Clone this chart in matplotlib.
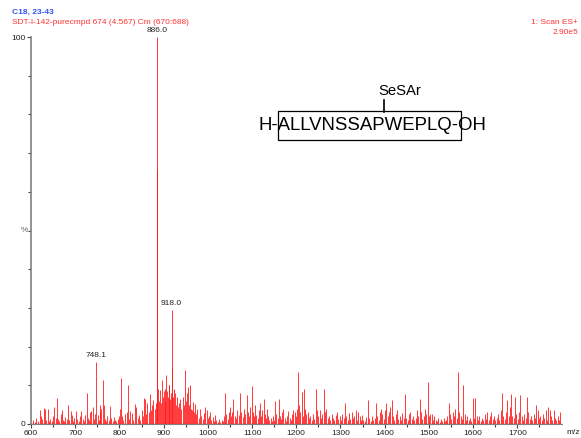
import matplotlib
matplotlib.use("Agg")
import matplotlib.pyplot as plt
from matplotlib.patches import Rectangle
from matplotlib.lines import Line2D

plt.rcParams['font.family'] = ['Liberation Sans', 'DejaVu Sans']

# peak list (m/z, relative intensity %)
mz = [
    604, 608, 612, 616, 620, 623, 626, 629, 632, 635, 638, 641, 644, 647, 650, 653, 656, 658, 661, 664,
    667, 669, 672, 675, 678, 681, 684, 687, 690, 692, 695, 698,
    702, 705, 708, 711, 714, 717, 720, 723, 726, 729, 731, 733, 736, 740, 743, 745, 748.1, 751,
    753, 755, 757, 759, 762, 764, 767, 770, 773, 776, 779, 782, 785, 788, 790, 793, 796, 799,
    801, 803, 806, 809, 812, 816, 819, 822, 825, 828, 831, 835, 838, 841, 844, 847, 850, 853,
    855, 858, 861, 863, 866, 869, 872, 874, 877, 880, 882, 884, 885.3, 886.0, 888, 890, 892, 894,
    896, 898, 900,
    902, 904, 905, 907, 909, 911, 913, 915, 916.5, 918.0, 920, 922, 924, 926, 928, 930, 932, 934,
    937, 940, 943, 945, 948, 950, 952, 954, 957, 960, 962, 965, 967, 969, 971, 974, 976, 979, 982,
    985, 988, 991, 994, 997, 1000,
    1003, 1005, 1008, 1011, 1014, 1016, 1019, 1022, 1025, 1028, 1031, 1034, 1037, 1039, 1042, 1045,
    1047, 1050, 1053, 1055, 1058, 1061, 1064, 1067, 1070, 1073, 1076, 1079, 1082, 1085, 1088, 1091,
    1094, 1096, 1099,
    1102, 1105, 1107, 1110, 1113, 1115, 1118, 1121, 1123, 1126, 1129, 1131, 1133, 1136, 1139, 1142,
    1145, 1148, 1150, 1152, 1155, 1158, 1160, 1163, 1166, 1168, 1171, 1174, 1177, 1179, 1182, 1185,
    1188, 1190, 1193, 1196, 1199,
    1202, 1204, 1207, 1209, 1212, 1215, 1217, 1220, 1223, 1226, 1229, 1232, 1235, 1238, 1241, 1244,
    1247, 1250, 1253, 1256, 1259, 1262, 1265, 1268, 1271, 1274, 1277, 1280, 1283, 1286, 1289, 1292,
    1295, 1298,
    1301, 1304, 1307, 1310, 1313, 1316, 1319, 1322, 1325, 1328, 1331, 1334, 1337, 1340, 1343, 1346,
    1349, 1352, 1355, 1358, 1362, 1365, 1368, 1371, 1374, 1377, 1380, 1383, 1386, 1389, 1392, 1395,
    1398,
    1401, 1404, 1407, 1410, 1413, 1416, 1419, 1422, 1425, 1428, 1431, 1434, 1437, 1440, 1443, 1446,
    1449, 1452, 1455, 1458, 1461, 1464, 1467, 1470, 1473, 1476, 1479, 1482, 1485, 1488, 1491, 1494,
    1497,
    1500, 1503, 1506, 1509, 1512, 1515, 1518, 1521, 1524, 1527, 1530, 1533, 1536, 1539, 1542, 1545,
    1548, 1551, 1554, 1557, 1560, 1563, 1566, 1569, 1572, 1575, 1578, 1581, 1584, 1587, 1590, 1593,
    1596, 1599,
    1602, 1605, 1608, 1611, 1614, 1617, 1620, 1623, 1626, 1629, 1632, 1635, 1638, 1641, 1644, 1647,
    1650, 1653, 1656, 1659, 1662, 1665, 1668, 1671, 1674, 1677, 1680, 1683, 1686, 1689, 1692, 1695,
    1698,
    1701, 1704, 1707, 1710, 1713, 1716, 1719, 1722, 1725, 1728, 1731, 1734, 1737, 1740, 1743, 1746,
    1749, 1752, 1755, 1758, 1761, 1764, 1767, 1770, 1773, 1776, 1779, 1782, 1785, 1788, 1791, 1794,
    1797,
]
intensity = [
    1.0, 0.6, 1.5, 0.8, 3.6, 2.0, 1.2, 4.2, 4.0, 1.0, 3.8, 0.9, 1.4, 0.7, 2.0, 4.3, 1.5, 6.7, 1.2, 0.8,
    2.5, 3.6, 1.1, 0.7, 1.8, 1.3, 4.8, 1.0, 3.4, 2.2, 0.9, 1.6,
    3.4, 1.2, 0.8, 2.0, 3.4, 1.4, 0.9, 2.3, 7.9, 1.5, 1.0, 3.0, 3.4, 4.5, 1.2, 2.6, 16.0, 2.4,
    1.1, 4.9, 3.0, 4.0, 11.4, 5.0, 1.3, 0.8, 2.0, 1.0, 4.6, 1.5, 0.9, 1.8, 1.0, 0.7, 1.4, 2.0,
    4.0, 11.8, 2.0, 1.0, 2.5, 3.0, 10.0, 1.2, 3.4, 2.8, 1.0, 5.2, 4.5, 1.5, 2.2, 1.0, 3.6, 2.0,
    6.7, 6.5, 2.5, 5.5, 3.0, 7.7, 3.5, 5.0, 6.3, 4.0, 5.5, 7.5, 66.0, 100.0, 9.0, 6.0, 8.8, 5.5,
    11.4, 7.0, 8.5,
    6.0, 9.0, 12.7, 8.5, 7.0, 10.0, 10.0, 6.5, 8.0, 29.5, 14.8, 7.0, 9.0, 8.0, 5.0, 7.0, 4.5, 5.5,
    6.5, 4.0, 7.0, 5.0, 14.0, 6.0, 8.0, 9.6, 5.0, 10.0, 4.0, 3.5, 5.8, 3.0, 5.2, 2.5, 4.0, 1.5, 3.8,
    2.0, 1.2, 2.8, 4.5, 3.5, 1.5,
    2.0, 3.2, 1.0, 1.8, 0.8, 2.3, 1.0, 0.6, 1.2, 0.5, 1.0, 0.7, 2.0, 8.0, 2.5, 1.4,
    3.0, 4.5, 2.0, 3.0, 6.5, 2.0, 1.5, 3.5, 2.2, 8.0, 3.0, 1.8, 4.0, 2.5, 7.5, 3.0,
    2.0, 4.5, 9.7,
    3.0, 2.0, 5.0, 2.4, 1.5, 3.5, 5.5, 2.0, 3.5, 6.5, 2.5, 1.5, 4.0, 2.0, 1.0, 1.5,
    0.8, 2.0, 1.0, 6.0, 2.5, 1.5, 6.5, 2.0, 1.2, 3.0, 4.0, 1.5, 0.8, 2.0, 3.3, 1.5,
    1.0, 2.5, 3.5, 3.2, 2.0,
    4.0, 13.4, 5.0, 3.0, 8.3, 2.0, 9.0, 4.0, 2.5, 3.2, 1.5, 2.0, 1.0, 2.5, 1.2, 9.0,
    3.5, 2.0, 3.5, 1.5, 2.5, 9.0, 3.0, 4.0, 1.5, 2.0, 1.0, 2.5, 1.5, 1.0, 2.2, 3.0,
    1.2, 2.0,
    1.0, 2.5, 1.5, 5.4, 2.0, 1.0, 2.8, 1.2, 3.0, 1.5, 2.0, 3.5, 1.0, 3.0, 2.0, 1.0,
    2.3, 1.0, 0.8, 1.8, 6.3, 1.5, 0.8, 2.0, 1.0, 1.6, 5.4, 2.0, 1.0, 3.0, 4.0, 2.5,
    1.2,
    3.5, 5.5, 2.0, 3.0, 4.5, 6.3, 2.0, 1.0, 2.5, 3.5, 1.2, 2.0, 1.0, 2.8, 1.5, 7.8,
    1.5, 1.0, 2.5, 3.0, 1.2, 2.0, 1.0, 1.5, 3.5, 2.0, 6.5, 3.0, 1.2, 2.0, 4.0, 2.5,
    10.9,
    2.0, 2.5, 2.5, 1.0, 2.0, 1.0, 0.8, 1.5, 0.6, 1.2, 0.8, 1.5, 0.7, 1.0, 2.0, 5.5,
    2.5, 1.2, 3.0, 2.0, 4.0, 1.5, 13.4, 3.0, 2.0, 1.2, 10.2, 2.5, 1.0, 2.0, 1.0, 1.5,
    0.8, 6.7,
    1.5, 6.7, 2.0, 1.0, 2.0, 0.8, 1.5, 1.0, 2.5, 1.2, 3.0, 1.0, 2.0, 3.0, 1.2, 2.0,
    1.0, 1.5, 2.5, 1.0, 3.5, 8.0, 2.0, 1.2, 3.0, 6.2, 2.0, 4.5, 7.8, 2.0, 1.5, 7.0,
    2.5,
    1.2, 3.0, 7.5, 2.0, 1.0, 2.5, 1.5, 7.0, 3.0, 1.2, 2.0, 1.0, 2.5, 1.5, 5.0, 3.5,
    1.5, 2.0, 1.0, 2.5, 1.5, 3.5, 1.0, 4.5, 3.5, 2.0, 1.0, 3.5, 1.5, 1.0, 2.0, 1.0,
    3.2,
]

labelled_mz = [886.0, 918.0, 748.1]
labelled_int = [100.0, 29.5, 16.0]
labelled_txt = ['886.0', '918.0', '748.1']

W, H = 581, 438
fig = plt.figure(figsize=(W / 100, H / 100), dpi=100)
ax = fig.add_axes([31 / W, (H - 424) / H, (562 - 31) / W, (424 - 37) / H])

ax.vlines(mz, 0, intensity, color='#ff1a1a', linewidth=0.6)
ax.axhline(0, color='#ff1a1a', linewidth=1.0, zorder=3)

for x, y, t in zip(labelled_mz, labelled_int, labelled_txt):
    ax.annotate(t, (x, y), xytext=(0, 2), textcoords='offset points',
                ha='center', va='bottom', fontsize=6, color='#222222',
                annotation_clip=False)

ax.set_xlim(600, 1801)
ax.set_ylim(0, 100)
ax.set_xticks(range(600, 1800, 100))
ax.set_xticks(range(650, 1800, 50), minor=True)
ax.set_yticks([0, 100])
ax.set_yticks(range(10, 100, 10), minor=True)
ax.tick_params(axis='both', which='major', labelsize=6, length=3, width=0.8,
               color='#444444', labelcolor='#222222', pad=1)
ax.tick_params(axis='both', which='minor', length=2, width=0.8, color='#444444')
for s in ['top', 'right']:
    ax.spines[s].set_visible(False)
ax.spines['left'].set_color('#808080')
ax.spines['left'].set_linewidth(1.2)
ax.spines['bottom'].set_color('#808080')

def fx(px):
    return px / W

def fy(py):
    return 1 - py / H

fig.text(fx(12), fy(12), 'C18, 23-43', color='#3355ee', fontsize=6, fontweight='bold', va='center')
fig.text(fx(12), fy(23), 'SDT-I-142-purecmpd 674 (4.567) Cm (670:688)', color='#ff3333', fontsize=6, va='center')
fig.text(fx(578), fy(23), '1: Scan ES+', color='#ff3333', fontsize=6, va='center', ha='right')
fig.text(fx(578), fy(32), '2.90e5', color='#ff3333', fontsize=6, va='center', ha='right')
fig.text(fx(24), fy(231), '%', color='#666666', fontsize=6, va='center', ha='center')
fig.text(fx(566), fy(433), 'm/z', color='#222222', fontsize=6, va='center', ha='left')

# peptide structure drawing
fig.text(fx(259), fy(126), 'H-ALLVNSSAPWEPLQ-OH', fontsize=13.4, va='center', ha='left')
fig.text(fx(378), fy(91), 'SeSAr', fontsize=10.7, va='center', ha='left')
fig.patches.append(Rectangle((fx(278), fy(140)), fx(461) - fx(278), fy(111) - fy(140),
                             transform=fig.transFigure, fill=False, edgecolor='black',
                             linewidth=0.9))
fig.lines.append(Line2D([fx(384), fx(384)], [fy(100), fy(112)], transform=fig.transFigure,
                        color='black', linewidth=1.2))

fig.savefig('out.png', dpi=100)
